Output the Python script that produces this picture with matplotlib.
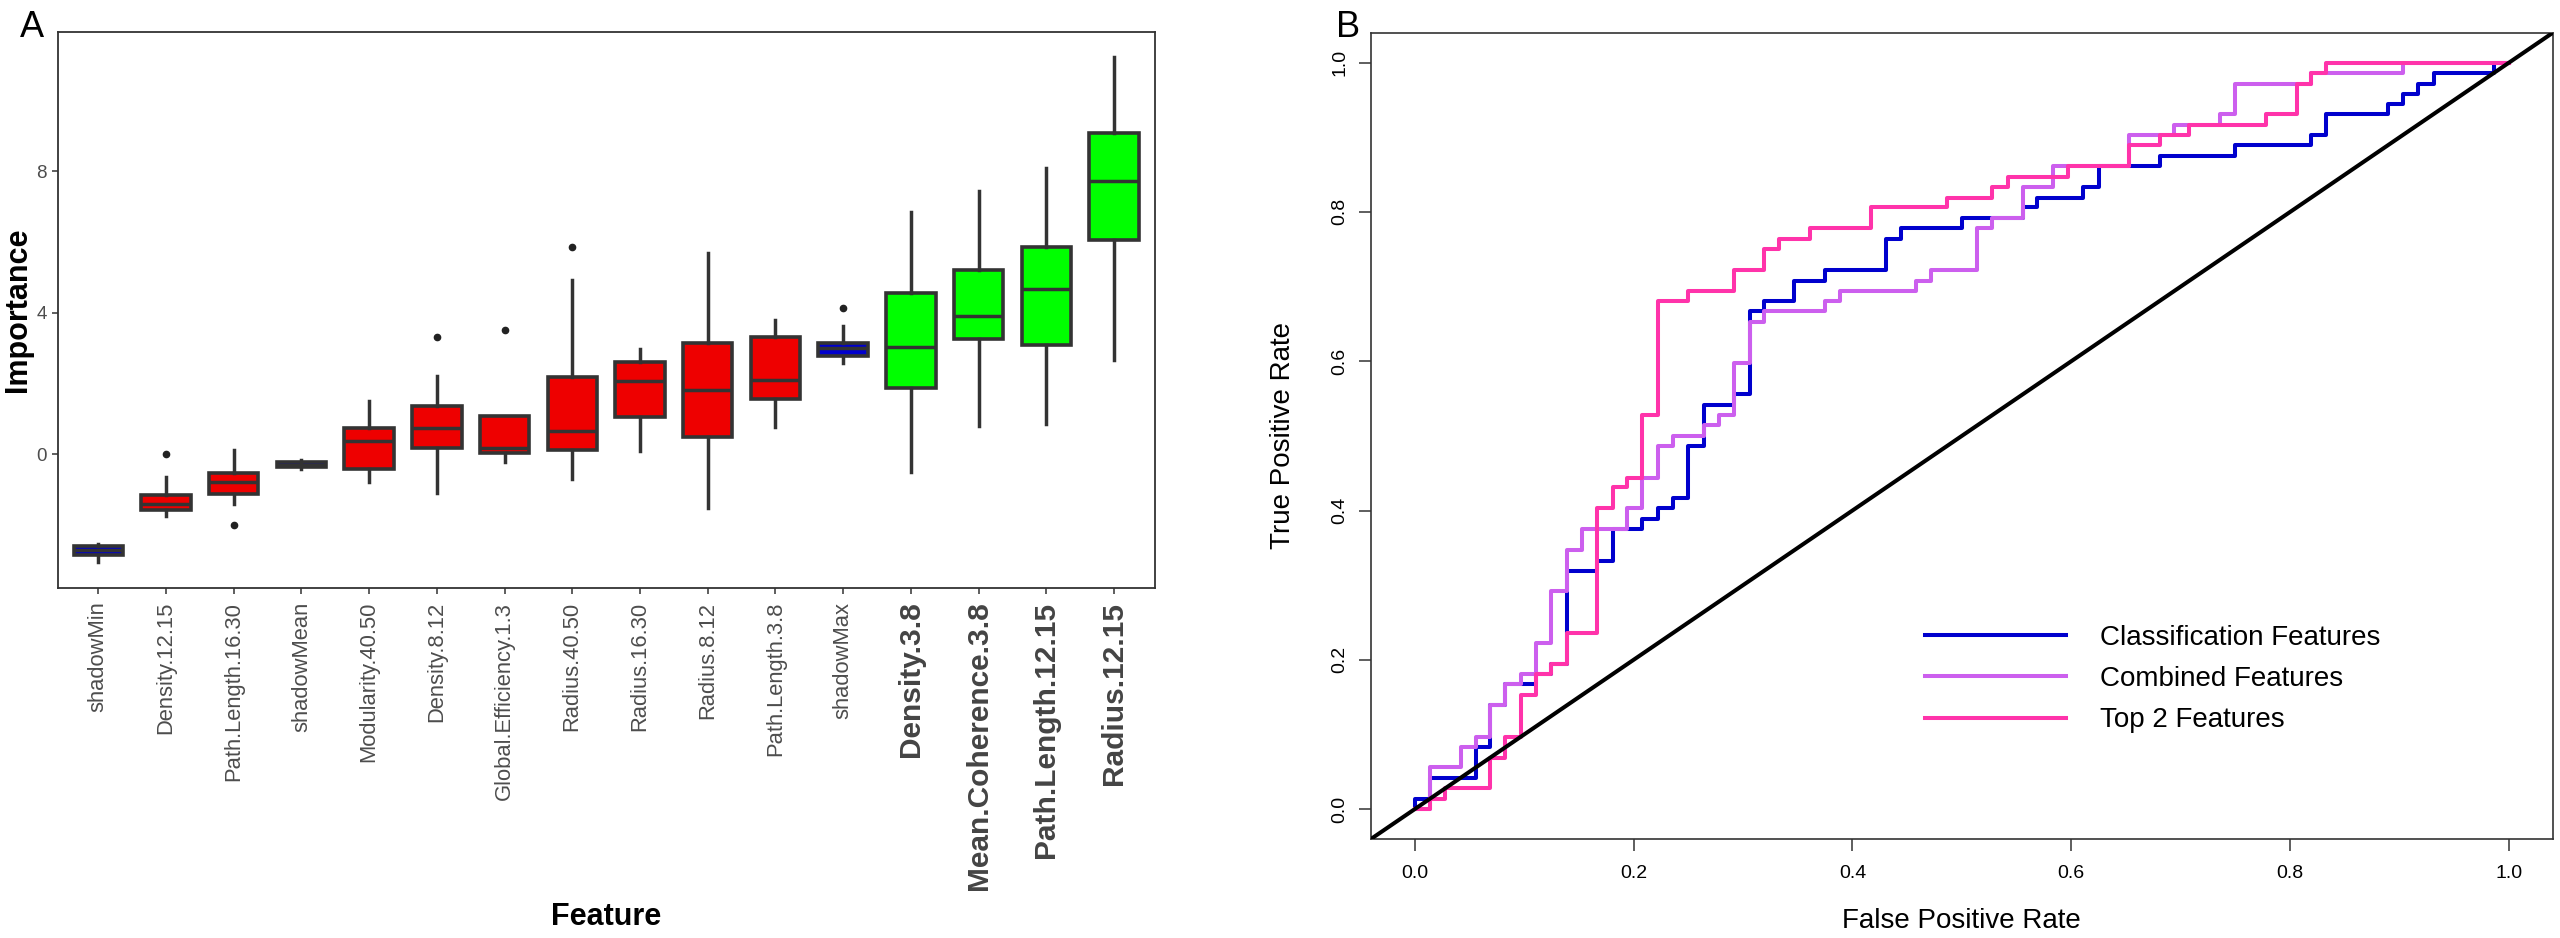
import matplotlib
matplotlib.use("Agg")
from matplotlib import pyplot as plt

plt.rcParams['font.family'] = ['Liberation Sans', 'DejaVu Sans']

# ---- panel A: Boruta-style feature importance ----
features = ["shadowMin", "Density.12.15", "Path.Length.16.30", "shadowMean",
            "Modularity.40.50", "Density.8.12", "Global.Efficiency.1.3", "Radius.40.50",
            "Radius.16.30", "Radius.8.12", "Path.Length.3.8", "shadowMax",
            "Density.3.8", "Mean.Coherence.3.8", "Path.Length.12.15", "Radius.12.15"]
decision = ["shadow", "rejected", "rejected", "shadow",
            "rejected", "rejected", "rejected", "rejected",
            "rejected", "rejected", "rejected", "shadow",
            "confirmed", "confirmed", "confirmed", "confirmed"]
imp_low = [-3.05, -1.75, -1.40, -0.42, -0.78, -1.08, -0.22, -0.69,
           0.09, -1.51, 0.78, 2.59, -0.50, 0.80, 0.87, 2.68]
imp_q1 = [-2.85, -1.56, -1.12, -0.37, -0.42, 0.19, 0.04, 0.13,
          1.06, 0.50, 1.56, 2.77, 1.87, 3.25, 3.09, 6.07]
imp_med = [-2.70, -1.41, -0.78, -0.30, 0.37, 0.75, 0.17, 0.67,
           2.07, 1.81, 2.09, 3.02, 3.04, 3.91, 4.66, 7.73]
imp_q3 = [-2.59, -1.14, -0.54, -0.22, 0.74, 1.37, 1.08, 2.20,
          2.61, 3.15, 3.33, 3.15, 4.55, 5.20, 5.87, 9.08]
imp_high = [-2.54, -0.64, 0.13, -0.17, 1.51, 2.21, 1.08, 4.92,
            2.99, 5.70, 3.80, 3.62, 6.84, 7.45, 8.10, 11.23]
imp_outliers = [[], [0.0], [-1.99], [], [], [3.32], [3.52], [5.87],
                [], [], [], [4.13], [], [], [], []]
imp_ticks = [0, 4, 8]

# ---- panel B: ROC curves ----
fpr_class = [0.0, 0.0, 0.014, 0.056, 0.069, 0.083, 0.111, 0.125, 0.139, 0.167,
             0.181, 0.208, 0.222, 0.236, 0.250, 0.264, 0.292, 0.306, 0.319, 0.347,
             0.375, 0.431, 0.444, 0.500, 0.556, 0.569, 0.611, 0.625, 0.681, 0.750,
             0.819, 0.833, 0.889, 0.903, 0.917, 0.931, 0.986, 1.0]
tpr_class = [0.0, 0.014, 0.042, 0.083, 0.139, 0.167, 0.181, 0.194, 0.319, 0.333,
             0.375, 0.389, 0.403, 0.417, 0.486, 0.542, 0.556, 0.667, 0.681, 0.708,
             0.722, 0.764, 0.778, 0.792, 0.806, 0.819, 0.833, 0.861, 0.875, 0.889,
             0.903, 0.931, 0.944, 0.958, 0.972, 0.986, 1.0, 1.0]
fpr_comb = [0.0, 0.014, 0.042, 0.056, 0.069, 0.083, 0.097, 0.111, 0.125, 0.139,
            0.153, 0.194, 0.208, 0.222, 0.236, 0.264, 0.278, 0.292, 0.306, 0.319,
            0.375, 0.389, 0.458, 0.472, 0.514, 0.528, 0.556, 0.583, 0.653, 0.694,
            0.736, 0.750, 0.819, 0.903, 1.0]
tpr_comb = [0.0, 0.056, 0.083, 0.097, 0.139, 0.167, 0.181, 0.222, 0.292, 0.347,
            0.375, 0.403, 0.444, 0.486, 0.500, 0.514, 0.528, 0.597, 0.653, 0.667,
            0.681, 0.694, 0.708, 0.722, 0.778, 0.792, 0.833, 0.861, 0.903, 0.917,
            0.931, 0.972, 0.986, 1.0, 1.0]
fpr_top2 = [0.0, 0.014, 0.028, 0.069, 0.083, 0.097, 0.111, 0.125, 0.139, 0.167,
            0.181, 0.194, 0.208, 0.222, 0.250, 0.292, 0.319, 0.333, 0.361, 0.417,
            0.486, 0.528, 0.542, 0.597, 0.653, 0.681, 0.708, 0.778, 0.806, 0.819,
            0.833, 1.0]
tpr_top2 = [0.0, 0.014, 0.028, 0.069, 0.097, 0.153, 0.181, 0.194, 0.236, 0.403,
            0.431, 0.444, 0.528, 0.681, 0.694, 0.722, 0.750, 0.764, 0.778, 0.806,
            0.819, 0.833, 0.847, 0.861, 0.889, 0.903, 0.917, 0.931, 0.972, 0.986,
            1.0, 1.0]
roc_labels = ["Classification Features", "Combined Features", "Top 2 Features"]
rate_ticks = [0.0, 0.2, 0.4, 0.6, 0.8, 1.0]

fill_colors = {"shadow": "#0000CD", "rejected": "#EE0000", "confirmed": "#00FF00"}
edge = "#333333"

fig = plt.figure(figsize=(25.6, 9.38), dpi=100)
axA = fig.add_axes([0.0225, 0.3731, 0.4285, 0.5928])
axB = fig.add_axes([0.5355, 0.1055, 0.4617, 0.8596])

# boxplot
stats = []
for i in range(len(features)):
    stats.append(dict(label=features[i], whislo=imp_low[i], q1=imp_q1[i], med=imp_med[i],
                      q3=imp_q3[i], whishi=imp_high[i], fliers=imp_outliers[i]))
positions = list(range(1, len(features) + 1))
bp = axA.bxp(stats, positions=positions, widths=0.73, patch_artist=True, showcaps=False,
             boxprops=dict(edgecolor=edge, linewidth=2.6),
             whiskerprops=dict(color=edge, linewidth=2.5),
             medianprops=dict(color=edge, linewidth=2.5),
             flierprops=dict(marker='o', markerfacecolor='#222222', markeredgecolor='#222222',
                             markersize=4.5))
for patch, d in zip(bp['boxes'], decision):
    patch.set_facecolor(fill_colors[d])

axA.set_xlim(0.4, len(features) + 0.6)
axA.set_ylim(-3.78, 11.94)
axA.set_yticks(imp_ticks)
axA.set_yticklabels([str(t) for t in imp_ticks], fontsize=13.5, color='#4D4D4D')
axA.set_xticks(positions)
axA.set_xticklabels(features, rotation=90, fontsize=15.8, color='#4D4D4D')
for lab, d in zip(axA.get_xticklabels(), decision):
    if d == "confirmed":
        lab.set_fontsize(21.5)
        lab.set_fontweight('bold')
        lab.set_color('#444444')
axA.tick_params(axis='both', length=4.3, width=1.1, color=edge)
axA.tick_params(axis='x', pad=5.5)
axA.tick_params(axis='y', pad=3.3)
for s in axA.spines.values():
    s.set_color(edge)
    s.set_linewidth(1.3)
axA.text(-0.0361, 0.5, "Importance", transform=axA.transAxes, rotation=90,
         ha='center', va='center', fontsize=22, fontweight='bold')
axA.text(0.5, -0.592, "Feature", transform=axA.transAxes,
         ha='center', va='center', fontsize=22, fontweight='bold')

# ROC
l1, = axB.plot(fpr_class, tpr_class, drawstyle='steps-post', color='#0000CD', lw=2.9, label=roc_labels[0])
l2, = axB.plot(fpr_comb, tpr_comb, drawstyle='steps-post', color='#CC5FEE', lw=2.9, label=roc_labels[1])
l3, = axB.plot(fpr_top2, tpr_top2, drawstyle='steps-post', color='#FF33AA', lw=2.9, label=roc_labels[2])
axB.axline((0, 0), (1, 1), color='black', lw=2.9, zorder=5)
axB.set_xlim(-0.04, 1.04)
axB.set_ylim(-0.04, 1.04)
axB.set_xticks(rate_ticks)
axB.set_xticklabels(["%.1f" % t for t in rate_ticks], fontsize=14)
axB.set_yticks(rate_ticks)
axB.set_yticklabels(["%.1f" % t for t in rate_ticks], fontsize=14, rotation=90, va='center')
axB.tick_params(axis='both', length=8.4, width=1.1, color=edge)
axB.tick_params(axis='x', pad=10)
axB.tick_params(axis='y', pad=8)
for s in axB.spines.values():
    s.set_color(edge)
    s.set_linewidth(1.2)
axB.text(0.5, -0.1013, "False Positive Rate", transform=axB.transAxes,
         ha='center', va='center', fontsize=20)
axB.text(-0.0743, 0.5, "True Positive Rate", transform=axB.transAxes, rotation=90,
         ha='center', va='center', fontsize=20)
axB.legend(handles=[l1, l2, l3], loc='upper left', bbox_to_anchor=(0.4689, 0.2658),
           frameon=False, fontsize=20, handlelength=5.06, handletextpad=1.22,
           labelspacing=0.55, borderpad=0, borderaxespad=0)

fig.text(0.0125, 0.971, "A", fontsize=26, ha='center', va='center')
fig.text(0.5266, 0.971, "B", fontsize=26, ha='center', va='center')

fig.savefig("out.png", dpi=100)
